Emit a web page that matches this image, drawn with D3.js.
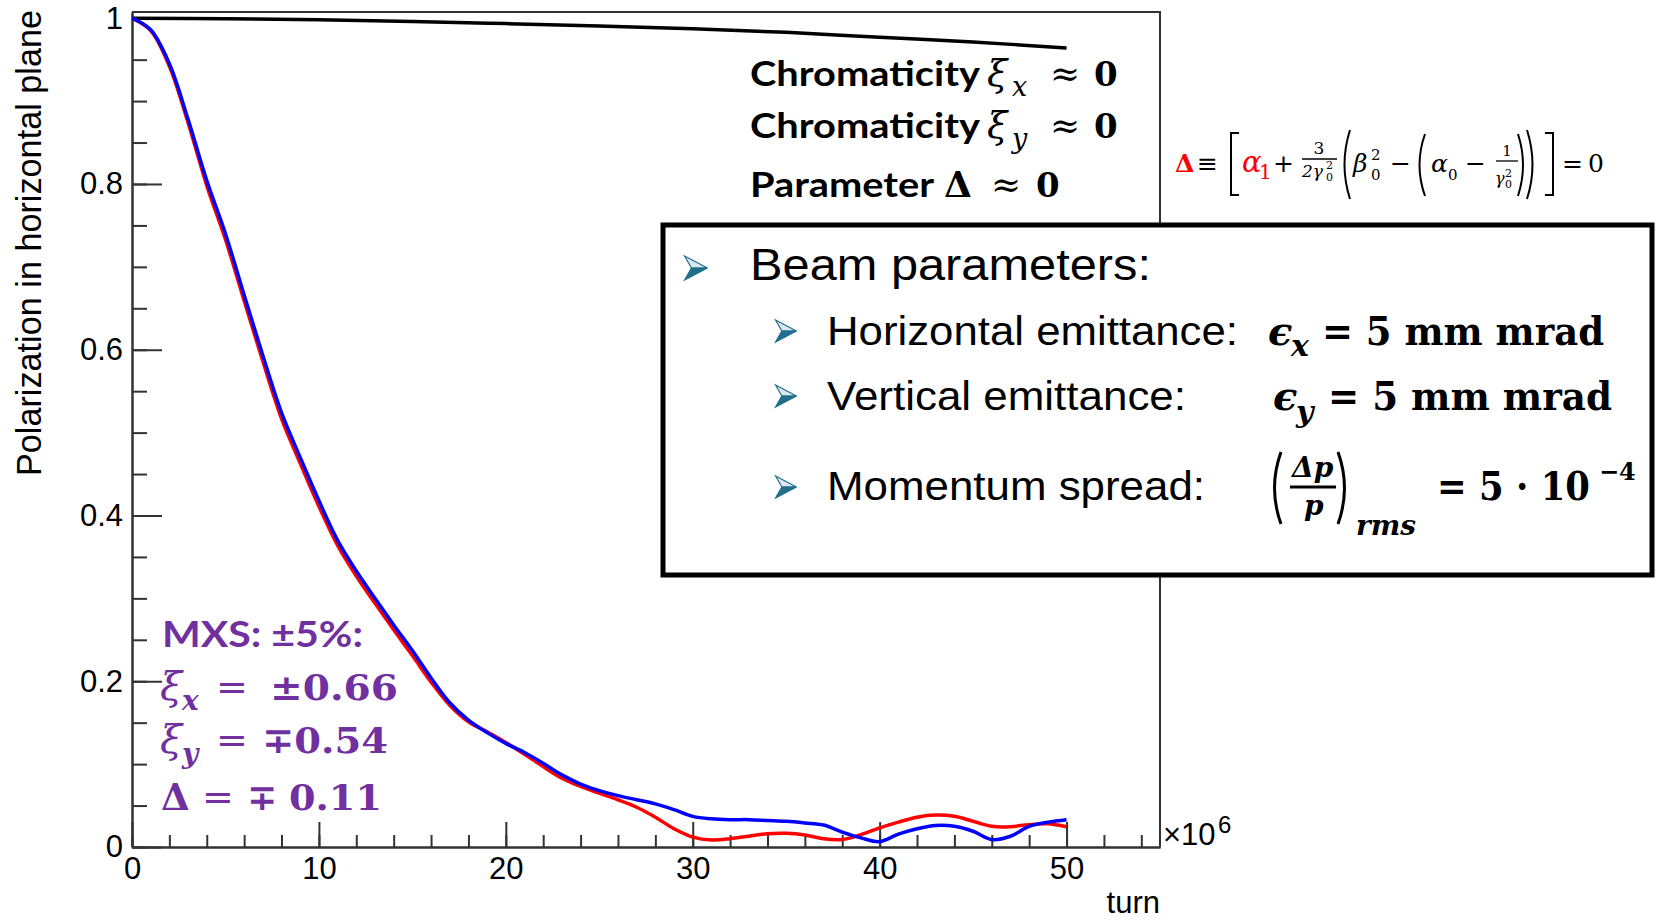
<!DOCTYPE html>
<html>
<head>
<meta charset="utf-8">
<script src="https://cdn.jsdelivr.net/npm/d3@7"></script>
<style>
  body { margin: 0; background: #fff; }
</style>
</head>
<body>
<div id="chart"></div>
<script>
////////// Data ///////////

// turn number (x 10^6)
const turns = [0, 1, 2, 3, 4, 5, 6, 7, 8, 9, 10, 11, 12, 13, 14, 15, 16, 17, 18, 19, 20,
  21, 22, 23, 24, 25, 26, 27, 28, 29, 30, 31, 32, 33, 34, 35, 36, 37, 38, 39, 40,
  41, 42, 43, 44, 45, 46, 47, 48, 49, 50];

// MXS +5% case (blue) and the other sign (red)
const polBlue = [1.0, 0.986, 0.945, 0.878, 0.804, 0.74, 0.666, 0.593, 0.524, 0.47, 0.418,
  0.37, 0.333, 0.3, 0.268, 0.237, 0.204, 0.174, 0.153, 0.138, 0.125,
  0.114, 0.101, 0.087, 0.076, 0.068, 0.062, 0.057, 0.052, 0.045, 0.037,
  0.034, 0.033, 0.033, 0.032, 0.031, 0.029, 0.0265, 0.018, 0.011, 0.0065,
  0.0155, 0.022, 0.026, 0.025, 0.019, 0.009, 0.013, 0.025, 0.03, 0.033];

const polRed = [1.0, 0.985, 0.942, 0.874, 0.798, 0.733, 0.659, 0.586, 0.517, 0.463, 0.411,
  0.364, 0.327, 0.294, 0.262, 0.231, 0.199, 0.171, 0.151, 0.139, 0.126,
  0.112, 0.097, 0.083, 0.073, 0.065, 0.057, 0.048, 0.036, 0.022, 0.012,
  0.0085, 0.01, 0.013, 0.016, 0.0165, 0.0145, 0.01, 0.009, 0.015, 0.023,
  0.03, 0.036, 0.0385, 0.037, 0.031, 0.025, 0.0245, 0.027, 0.028, 0.0245];

// chromaticity ~ 0 (black)
const turnsBlack = [0, 5, 10, 15, 20, 25, 30, 35, 40, 45, 50];
const polBlack = [1.0, 0.9995, 0.998, 0.996, 0.9935, 0.9905, 0.9872, 0.983, 0.977, 0.9712, 0.9642];

const xMajorTicks = [0, 10, 20, 30, 40, 50];
const xMinorTicks = d3.range(0, 55, 2);
const yMajorTicks = [0, 0.2, 0.4, 0.6, 0.8, 1];
const yMinorTicks = d3.range(0, 1.001, 0.05);

////////// Drawing ///////////

const SANS = "'Liberation Sans', Arial, sans-serif";
const CAL = "Lato, 'Open Sans', sans-serif";
const MATH = "'DejaVu Serif', serif";
const PURPLE = "#7030a0";

const width = 1657, height = 920;
const svg = d3.select("#chart").append("svg")
  .attr("width", width)
  .attr("height", height);

// plot frame
const pL = 132, pR = 1160, pT = 12, pB = 847;
const x = d3.scaleLinear().domain([0, 55]).range([pL, pR]);
const y = d3.scaleLinear().domain([0, 1.0075]).range([pB, pT]);

function styleAxis(g) {
  g.selectAll("path.domain").attr("stroke", "#333").attr("stroke-width", 2);
  g.selectAll(".tick line").attr("stroke", "#333").attr("stroke-width", 2);
  g.selectAll("text").style("font-family", SANS).style("font-size", "31px").attr("fill", "#000");
}

// minor ticks first
svg.append("g")
  .attr("transform", "translate(0," + pB + ")")
  .call(d3.axisBottom(x).tickValues(xMinorTicks).tickSizeInner(-12).tickSizeOuter(0).tickFormat(""))
  .call(styleAxis);
svg.append("g")
  .attr("transform", "translate(" + pL + ",0)")
  .call(d3.axisLeft(y).tickValues(yMinorTicks).tickSizeInner(-15).tickSizeOuter(0).tickFormat(""))
  .call(styleAxis);

// major ticks + labels
svg.append("g")
  .attr("transform", "translate(0," + pB + ")")
  .call(d3.axisBottom(x).tickValues(xMajorTicks).tickSizeInner(-25).tickSizeOuter(0).tickPadding(10))
  .call(styleAxis);
svg.append("g")
  .attr("transform", "translate(" + pL + ",0)")
  .call(d3.axisLeft(y).tickValues(yMajorTicks).tickSizeInner(-30).tickSizeOuter(0).tickPadding(9)
    .tickFormat(d3.format("~g")))
  .call(styleAxis);

// top and right frame lines
svg.append("path")
  .attr("d", "M" + pL + "," + pT + "H" + pR + "V" + pB)
  .attr("fill", "none")
  .attr("stroke", "#333")
  .attr("stroke-width", 2);

// curves
const line = d3.line()
  .x(function(d) { return x(d[0]); })
  .y(function(d) { return y(d[1]); })
  .curve(d3.curveCatmullRom.alpha(0.5));

svg.append("path")
  .datum(turnsBlack.map(function(t, i) { return [t, polBlack[i]]; }))
  .attr("d", line).attr("fill", "none").attr("stroke", "#000").attr("stroke-width", 3.5);
svg.append("path")
  .datum(turns.map(function(t, i) { return [t, polRed[i]]; }))
  .attr("d", line).attr("fill", "none").attr("stroke", "#ff0000").attr("stroke-width", 3.5);
svg.append("path")
  .datum(turns.map(function(t, i) { return [t, polBlue[i]]; }))
  .attr("d", line).attr("fill", "none").attr("stroke", "#0000ff").attr("stroke-width", 3.5);

////////// Texts ///////////

function txt(g, px, py, s, o) {
  o = o || {};
  const e = g.append("text")
    .attr("x", px).attr("y", py)
    .style("font-family", o.f || SANS)
    .style("font-size", (o.s || 30) + "px")
    .attr("fill", o.c || "#000")
    .text(s);
  if (o.w) e.style("font-weight", o.w);
  if (o.i) e.style("font-style", "italic");
  if (o.a) e.attr("text-anchor", o.a);
  if (o.len) e.attr("textLength", o.len).attr("lengthAdjust", "spacingAndGlyphs");
  return e;
}

// axis titles
svg.append("text")
  .attr("transform", "translate(41,10) rotate(-90)")
  .attr("text-anchor", "end")
  .attr("textLength", 466)
  .attr("lengthAdjust", "spacingAndGlyphs")
  .style("font-family", SANS)
  .style("font-size", "34.5px")
  .text("Polarization in horizontal plane");
txt(svg, pR, 913, "turn", { s: 31, a: "end" });
txt(svg, 1163, 845, "\u00d710", { s: 31 });
txt(svg, 1218, 833, "6", { s: 24 });

// chromaticity block
txt(svg, 750, 86, "Chromaticity", { f: CAL, w: 700, s: 34, len: 230 });
txt(svg, 987, 86, "\u03be", { f: MATH, i: 1, s: 37 });
txt(svg, 1012, 96, "x", { f: MATH, i: 1, s: 27 });
txt(svg, 1050, 86, "\u2248", { f: MATH, s: 36 });
txt(svg, 1094, 86, "0", { f: MATH, w: 700, s: 34 });

txt(svg, 750, 138, "Chromaticity", { f: CAL, w: 700, s: 34, len: 230 });
txt(svg, 987, 138, "\u03be", { f: MATH, i: 1, s: 37 });
txt(svg, 1012, 148, "y", { f: MATH, i: 1, s: 27 });
txt(svg, 1050, 138, "\u2248", { f: MATH, s: 36 });
txt(svg, 1094, 138, "0", { f: MATH, w: 700, s: 34 });

txt(svg, 750, 197, "Parameter", { f: CAL, w: 700, s: 34, len: 184 });
txt(svg, 944, 197, "\u0394", { f: MATH, w: 700, s: 36 });
txt(svg, 991, 197, "\u2248", { f: MATH, s: 36 });
txt(svg, 1036, 197, "0", { f: MATH, w: 700, s: 34 });

// small formula right of the frame
function paren(g, px0, px1, py0, py1, sw) {
  // px1 = ends of the arc, px0 = bulge
  g.append("path")
    .attr("d", "M" + px1 + "," + py0 + "Q" + px0 + "," + (py0 + py1) / 2 + " " + px1 + "," + py1)
    .attr("fill", "none").attr("stroke", "#000").attr("stroke-width", sw || 2);
}
function bracket(g, px0, px1, py0, py1, sw) {
  g.append("path")
    .attr("d", "M" + px1 + "," + py0 + "H" + px0 + "V" + py1 + "H" + px1)
    .attr("fill", "none").attr("stroke", "#000").attr("stroke-width", sw || 2);
}
const fm = svg.append("g");
txt(fm, 1175, 172, "\u0394", { f: MATH, w: 700, s: 25, c: "#ff0000" });
txt(fm, 1197, 172, "\u2261", { f: MATH, s: 25 });
bracket(fm, 1231, 1239, 133, 195, 2);
txt(fm, 1242, 172, "\u03b1", { f: MATH, i: 1, s: 29, c: "#ff0000" });
txt(fm, 1259, 179, "1", { f: MATH, s: 20, c: "#ff0000" });
txt(fm, 1273, 172, "+", { f: MATH, s: 25 });
txt(fm, 1319, 154, "3", { f: MATH, s: 17, a: "middle" });
fm.append("line").attr("x1", 1302).attr("x2", 1337).attr("y1", 159).attr("y2", 159).attr("stroke", "#000").attr("stroke-width", 1.3);
txt(fm, 1302, 177, "2\u03b3", { f: MATH, i: 1, s: 17 });
txt(fm, 1326, 181, "0", { f: MATH, s: 11 });
txt(fm, 1326, 169, "2", { f: MATH, s: 11 });
paren(fm, 1339, 1350, 130, 199, 2);
txt(fm, 1353, 172, "\u03b2", { f: MATH, i: 1, s: 25 });
txt(fm, 1371, 160, "2", { f: MATH, s: 15 });
txt(fm, 1371, 180, "0", { f: MATH, s: 15 });
txt(fm, 1390, 172, "\u2212", { f: MATH, s: 25 });
paren(fm, 1414, 1425, 134, 196, 2);
txt(fm, 1431, 172, "\u03b1", { f: MATH, i: 1, s: 25 });
txt(fm, 1448, 180, "0", { f: MATH, s: 15 });
txt(fm, 1465, 172, "\u2212", { f: MATH, s: 25 });
txt(fm, 1507, 156, "1", { f: MATH, s: 15, a: "middle" });
fm.append("line").attr("x1", 1496).attr("x2", 1518).attr("y1", 161).attr("y2", 161).attr("stroke", "#000").attr("stroke-width", 1.3);
txt(fm, 1495, 184, "\u03b3", { f: MATH, i: 1, s: 16 });
txt(fm, 1505, 188, "0", { f: MATH, s: 11 });
txt(fm, 1505, 177, "2", { f: MATH, s: 11 });
paren(fm, 1528, 1518, 134, 196, 2);
paren(fm, 1538, 1527, 130, 199, 2);
bracket(fm, 1553, 1545, 133, 195, 2);
txt(fm, 1562, 172, "=", { f: MATH, s: 25 });
txt(fm, 1588, 172, "0", { f: MATH, s: 25 });

// beam parameter box
const box = svg.append("g");
box.append("rect")
  .attr("x", 663).attr("y", 225)
  .attr("width", 989).attr("height", 350)
  .attr("fill", "#fff").attr("stroke", "#000").attr("stroke-width", 5);

function arrowBullet(g, cx, cy, s) {
  const w = s * 0.95, h = s;
  const x0 = cx - w / 2, y0 = cy - h / 2;
  g.append("path")
    .attr("d", "M" + x0 + "," + y0 + "L" + (x0 + w) + "," + cy + "L" + (x0 + w * 0.3) + "," + cy + "Z")
    .attr("fill", "#dbe9ef").attr("stroke", "#1f6e8c").attr("stroke-width", 1.2);
  g.append("path")
    .attr("d", "M" + (x0 + w * 0.3) + "," + cy + "L" + (x0 + w) + "," + cy + "L" + x0 + "," + (y0 + h) + "Z")
    .attr("fill", "#1f6e8c").attr("stroke", "#1f6e8c").attr("stroke-width", 1.2);
}

arrowBullet(box, 696, 268, 24);
txt(box, 750, 280, "Beam parameters:", { s: 45, len: 401 });

arrowBullet(box, 786, 331, 22);
txt(box, 827, 345, "Horizontal emittance:", { s: 40, len: 411 });
txt(box, 1268, 345, "\u03f5", { f: MATH, i: 1, w: 700, s: 40 });
txt(box, 1291, 356, "x", { f: MATH, i: 1, w: 700, s: 30 });
txt(box, 1322, 345, "= 5 mm mrad", { f: MATH, w: 700, s: 40, len: 282 });

arrowBullet(box, 786, 396, 22);
txt(box, 827, 410, "Vertical emittance:", { s: 40, len: 359 });
txt(box, 1273, 410, "\u03f5", { f: MATH, i: 1, w: 700, s: 40 });
txt(box, 1296, 422, "y", { f: MATH, i: 1, w: 700, s: 30 });
txt(box, 1328, 410, "= 5 mm mrad", { f: MATH, w: 700, s: 40, len: 284 });

arrowBullet(box, 786, 487, 22);
txt(box, 827, 500, "Momentum spread:", { s: 40, len: 378 });
paren(box, 1268, 1281, 452, 524, 3);
txt(box, 1292, 477, "\u0394p", { f: MATH, i: 1, w: 700, s: 28 });
box.append("line").attr("x1", 1290).attr("x2", 1336).attr("y1", 487).attr("y2", 487).attr("stroke", "#000").attr("stroke-width", 3);
txt(box, 1304, 515, "p", { f: MATH, i: 1, w: 700, s: 28 });
paren(box, 1351, 1338, 452, 524, 3);
txt(box, 1356, 535, "rms", { f: MATH, i: 1, w: 700, s: 28, len: 60 });
txt(box, 1437, 500, "= 5 \u00b7 10", { f: MATH, w: 700, s: 40, len: 153 });
txt(box, 1599, 480, "\u22124", { f: MATH, w: 700, s: 24 });

// MXS block
const mx = svg.append("g");
txt(mx, 162, 647, "MXS: \u00b15%:", { f: CAL, w: 700, s: 37, c: PURPLE, len: 201 });

txt(mx, 160, 700, "\u03be", { f: MATH, i: 1, s: 40, c: PURPLE });
txt(mx, 182, 710, "x", { f: MATH, i: 1, w: 700, s: 28, c: PURPLE });
txt(mx, 216, 700, "=", { f: MATH, s: 38, c: PURPLE });
txt(mx, 270, 700, "\u00b10.66", { f: MATH, w: 700, s: 36, c: PURPLE, len: 128 });

txt(mx, 160, 753, "\u03be", { f: MATH, i: 1, s: 40, c: PURPLE });
txt(mx, 182, 763, "y", { f: MATH, i: 1, w: 700, s: 28, c: PURPLE });
txt(mx, 216, 753, "=", { f: MATH, s: 38, c: PURPLE });
txt(mx, 262, 753, "\u22130.54", { f: MATH, w: 700, s: 36, c: PURPLE, len: 126 });

txt(mx, 161, 810, "\u0394", { f: MATH, w: 700, s: 37, c: PURPLE });
txt(mx, 202, 810, "=", { f: MATH, s: 38, c: PURPLE });
txt(mx, 247, 810, "\u2213", { f: MATH, w: 700, s: 36, c: PURPLE });
txt(mx, 289, 810, "0.11", { f: MATH, w: 700, s: 36, c: PURPLE, len: 93 });
</script>
</body>
</html>
